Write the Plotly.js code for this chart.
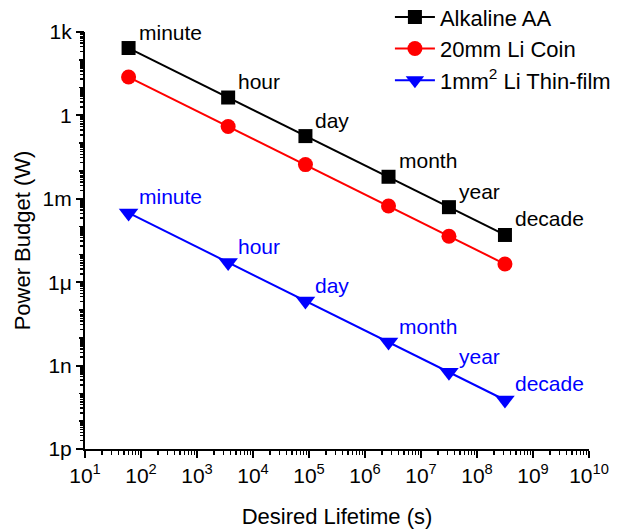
<!DOCTYPE html>
<html>
<head>
<meta charset="utf-8">
<script src="https://cdn.plot.ly/plotly-3.0.1.min.js"></script>
<style>
  html, body { margin: 0; padding: 0; background: #fff; }
  #chart { width: 623px; height: 529px; }
</style>
</head>
<body>
<div id="chart"></div>
<script>
// ---- data ----
const durations = ['minute', 'hour', 'day', 'month', 'year', 'decade'];
const lifetimeSeconds = [60, 3600, 86400, 2.63e6, 3.156e7, 3.156e8];
const alkalineW = [265, 4.4, 0.18, 6.2e-3, 5.0e-4, 5.0e-5];
const liCoinW = [24, 0.40, 0.017, 5.5e-4, 4.5e-5, 4.5e-6];
const thinFilmW = [3.1e-4, 5.1e-6, 2.1e-7, 7.0e-9, 5.8e-10, 5.8e-11];
const seriesNames = ['Alkaline AA', '20mm Li Coin', '1mm<sup>2</sup> Li Thin-film'];
const yTickVals = [1e-12, 1e-9, 1e-6, 1e-3, 1, 1e3];
const yTickText = ['1p', '1n', '1μ', '1m', '1', '1k'];
const xTickExponents = [1, 2, 3, 4, 5, 6, 7, 8, 9, 10];

// ---- helpers for tick positions ----
const xTickVals = xTickExponents.map(e => Math.pow(10, e));
const xTickText = xTickExponents.map(e => '10<sup>' + e + '</sup>');
function subDecades(lo, hi) {
  const v = [];
  for (let e = lo; e < hi; e++) for (let k = 2; k <= 9; k++) v.push(k * Math.pow(10, e));
  return v;
}
function decades(lo, hi) {
  const v = [];
  for (let e = lo; e <= hi; e++) v.push(Math.pow(10, e));
  return v;
}

const FONT = 'Arial, "Liberation Sans", sans-serif';
const traceStyle = [
  { color: '#000000', symbol: 'square', size: 14 },
  { color: '#ff0000', symbol: 'circle', size: 15 },
  { color: '#0000ff', symbol: 'triangle-down', size: 17 }
];
const ys = [alkalineW, liCoinW, thinFilmW];

const traces = ys.map((y, i) => ({
  x: lifetimeSeconds,
  y: y,
  name: seriesNames[i],
  type: 'scatter',
  mode: 'lines+markers',
  line: { color: traceStyle[i].color, width: 2 },
  marker: { color: traceStyle[i].color, symbol: traceStyle[i].symbol, size: traceStyle[i].size },
  cliponaxis: false
}));
// invisible helper trace for the decade tick axis
traces.push({ x: [10], y: [1], xaxis: 'x', yaxis: 'y2', mode: 'markers',
  marker: { opacity: 0 }, showlegend: false, hoverinfo: 'skip' });

const annotations = [];
[[alkalineW, '#000000'], [thinFilmW, '#0000ff']].forEach(([y, col]) => {
  durations.forEach((d, j) => {
    annotations.push({
      x: Math.log10(lifetimeSeconds[j]), y: Math.log10(y[j]),
      xref: 'x', yref: 'y', text: d, showarrow: false,
      xanchor: 'left', yanchor: 'middle', xshift: 8, yshift: 16,
      font: { family: FONT, size: 21, color: col }
    });
  });
});

const layout = {
  width: 623, height: 529,
  margin: { l: 85, r: 34, t: 32, b: 80, autoexpand: false },
  paper_bgcolor: '#fff', plot_bgcolor: '#fff',
  font: { family: FONT, size: 21, color: '#000' },
  showlegend: true,
  legend: {
    x: 0.605, y: 1.086, xanchor: 'left', yanchor: 'top',
    bgcolor: 'rgba(0,0,0,0)', font: { family: FONT, size: 22, color: '#000' },
    tracegroupgap: 0, itemwidth: 40
  },
  xaxis: {
    type: 'log', range: [1, 10],
    showgrid: false, zeroline: false,
    showline: true, linecolor: '#000', linewidth: 2,
    ticks: 'outside', ticklen: 7, tickwidth: 2, tickcolor: '#000',
    tickmode: 'array', tickvals: xTickVals, ticktext: xTickText,
    tickfont: { family: FONT, size: 21, color: '#000' },
    minor: { ticks: 'outside', ticklen: 4, tickwidth: 1.5, tickcolor: '#000',
      tickmode: 'array', tickvals: subDecades(1, 10), showgrid: false },
    title: { text: 'Desired Lifetime (s)', font: { family: FONT, size: 22, color: '#000' }, standoff: 24 }
  },
  yaxis: {
    type: 'log', range: [-12, 3],
    showgrid: false, zeroline: false,
    showline: true, linecolor: '#000', linewidth: 2,
    ticks: 'outside', ticklen: 7, tickwidth: 2, tickcolor: '#000',
    tickmode: 'array', tickvals: yTickVals, ticktext: yTickText,
    tickfont: { family: FONT, size: 21, color: '#000' },
    minor: { ticks: 'outside', ticklen: 3, tickwidth: 1.5, tickcolor: '#000',
      tickmode: 'array', tickvals: subDecades(-12, 3), showgrid: false },
    title: { text: 'Power Budget (W)', font: { family: FONT, size: 22, color: '#000' }, standoff: 6 }
  },
  yaxis2: {
    type: 'log', range: [-12, 3], overlaying: 'y', anchor: 'x', side: 'left',
    showgrid: false, zeroline: false, showline: false,
    ticks: 'outside', ticklen: 5, tickwidth: 1.5, tickcolor: '#000',
    tickmode: 'array', tickvals: decades(-12, 3), showticklabels: false
  },
  annotations: annotations
};

Plotly.newPlot('chart', traces, layout, { displayModeBar: false, staticPlot: true });
</script>
</body>
</html>
